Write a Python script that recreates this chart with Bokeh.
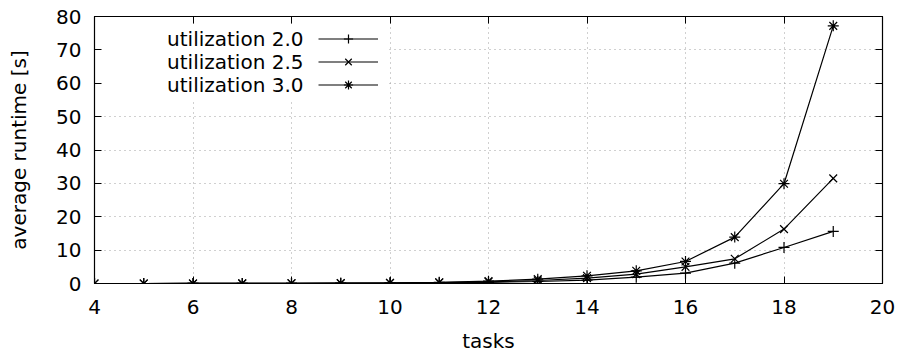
from bokeh.plotting import figure
from bokeh.models import (Range1d, LinearAxis, FixedTicker, CustomJSTickFormatter,
                          Legend, LegendItem, Label, BoxAnnotation, ColumnDataSource)
from bokeh.core.properties import value
from bokeh.embed import file_html
from bokeh.resources import INLINE

# ---- data ----
tasks = list(range(4, 20))
util_20 = [0.0, 0.0, 0.01, 0.02, 0.04, 0.07, 0.12, 0.2, 0.35, 0.6, 1.0, 1.9, 3.1, 6.1, 10.8, 15.6]
util_25 = [0.0, 0.0, 0.01, 0.02, 0.05, 0.09, 0.15, 0.28, 0.5, 0.9, 1.6, 2.8, 5.0, 7.4, 16.3, 31.5]
util_30 = [0.0, 0.0, 0.01, 0.03, 0.06, 0.11, 0.2, 0.35, 0.7, 1.3, 2.3, 3.8, 6.6, 13.9, 29.9, 77.2]
series_labels = ["utilization 2.0", "utilization 2.5", "utilization 3.0"]
series_markers = ["cross", "x", "asterisk"]
x_ticks = [4, 6, 8, 10, 12, 14, 16, 18, 20]
y_ticks = [0, 10, 20, 30, 40, 50, 60, 70, 80]

FONT = "DejaVu Sans"
FS = "20px"

p = figure(width=901, height=355, output_backend="svg", toolbar_location=None,
           x_range=Range1d(4, 20), y_range=Range1d(0, 80),
           min_border_left=94, min_border_right=19, min_border_top=16, min_border_bottom=72,
           x_axis_label="tasks", y_axis_label="average runtime [s]")
p.background_fill_color = "white"
p.border_fill_color = "white"
p.outline_line_color = "black"
p.outline_line_width = 1.2

for ax in (p.xaxis[0], p.yaxis[0]):
    ax.major_tick_in = 7
    ax.major_tick_out = 0
    ax.minor_tick_in = 0
    ax.minor_tick_out = 0
    ax.axis_line_color = "black"
    ax.major_tick_line_color = "black"
    ax.major_label_text_font = FONT
    ax.major_label_text_font_size = FS
    ax.major_label_text_color = "black"
    ax.axis_label_text_font = FONT
    ax.axis_label_text_font_size = FS
    ax.axis_label_text_font_style = "normal"
    ax.axis_label_text_color = "black"

p.xaxis[0].major_label_standoff = 16
p.yaxis[0].major_label_standoff = 13
p.xaxis[0].ticker = FixedTicker(ticks=x_ticks)
p.yaxis[0].ticker = FixedTicker(ticks=y_ticks)
p.xaxis[0].axis_label_standoff = 12
p.yaxis[0].axis_label_standoff = 22

# mirrored axes (ticks only)
blank = CustomJSTickFormatter(code="return ''")
top_ax = LinearAxis(ticker=FixedTicker(ticks=x_ticks), formatter=blank,
                    major_tick_in=7, major_tick_out=0, minor_tick_in=0, minor_tick_out=0,
                    axis_line_color="black", major_tick_line_color="black")
right_ax = LinearAxis(ticker=FixedTicker(ticks=y_ticks), formatter=blank,
                      major_tick_in=7, major_tick_out=0, minor_tick_in=0, minor_tick_out=0,
                      axis_line_color="black", major_tick_line_color="black")
p.add_layout(top_ax, "above")
p.add_layout(right_ax, "right")

p.xgrid.ticker = FixedTicker(ticks=x_ticks)
p.ygrid.ticker = FixedTicker(ticks=y_ticks)
for g in (p.xgrid, p.ygrid):
    g.grid_line_color = "#a0a0a0"
    g.grid_line_dash = "1 4"
    g.grid_line_width = 1

src = ColumnDataSource(dict(tasks=tasks, u20=util_20, u25=util_25, u30=util_30))
items = []
for col, lab, mk in zip(["u20", "u25", "u30"], series_labels, series_markers):
    r1 = p.line("tasks", col, source=src, line_color="black", line_width=1.2)
    r2 = p.scatter("tasks", col, source=src, marker=mk, size=11,
                   line_color="black", line_width=1.2, fill_color=None)
    items.append(LegendItem(label=value(" "), renderers=[r1, r2]))

# white key area (hides grid like gnuplot's key)
box = BoxAnnotation(left=8, right=294, bottom=183, top=259,
                    left_units="screen", right_units="screen",
                    bottom_units="screen", top_units="screen",
                    fill_color="white", fill_alpha=1.0, line_color=None)
p.add_layout(box)

legend = Legend(items=items, location=(224, 187.5), glyph_width=60, glyph_height=23,
                label_height=23, label_width=0, label_standoff=0, spacing=0,
                padding=0, margin=0, border_line_color=None, background_fill_alpha=0,
                label_text_font=FONT, label_text_font_size=FS)
p.add_layout(legend)

for i, lab in enumerate(series_labels):
    p.add_layout(Label(x=209, y=245 - 23 * i, x_units="screen", y_units="screen",
                       text=lab, text_align="right", text_baseline="middle",
                       text_font=FONT, text_font_size=FS, text_color="black"))

open("out.html", "w").write(file_html(p, INLINE))
